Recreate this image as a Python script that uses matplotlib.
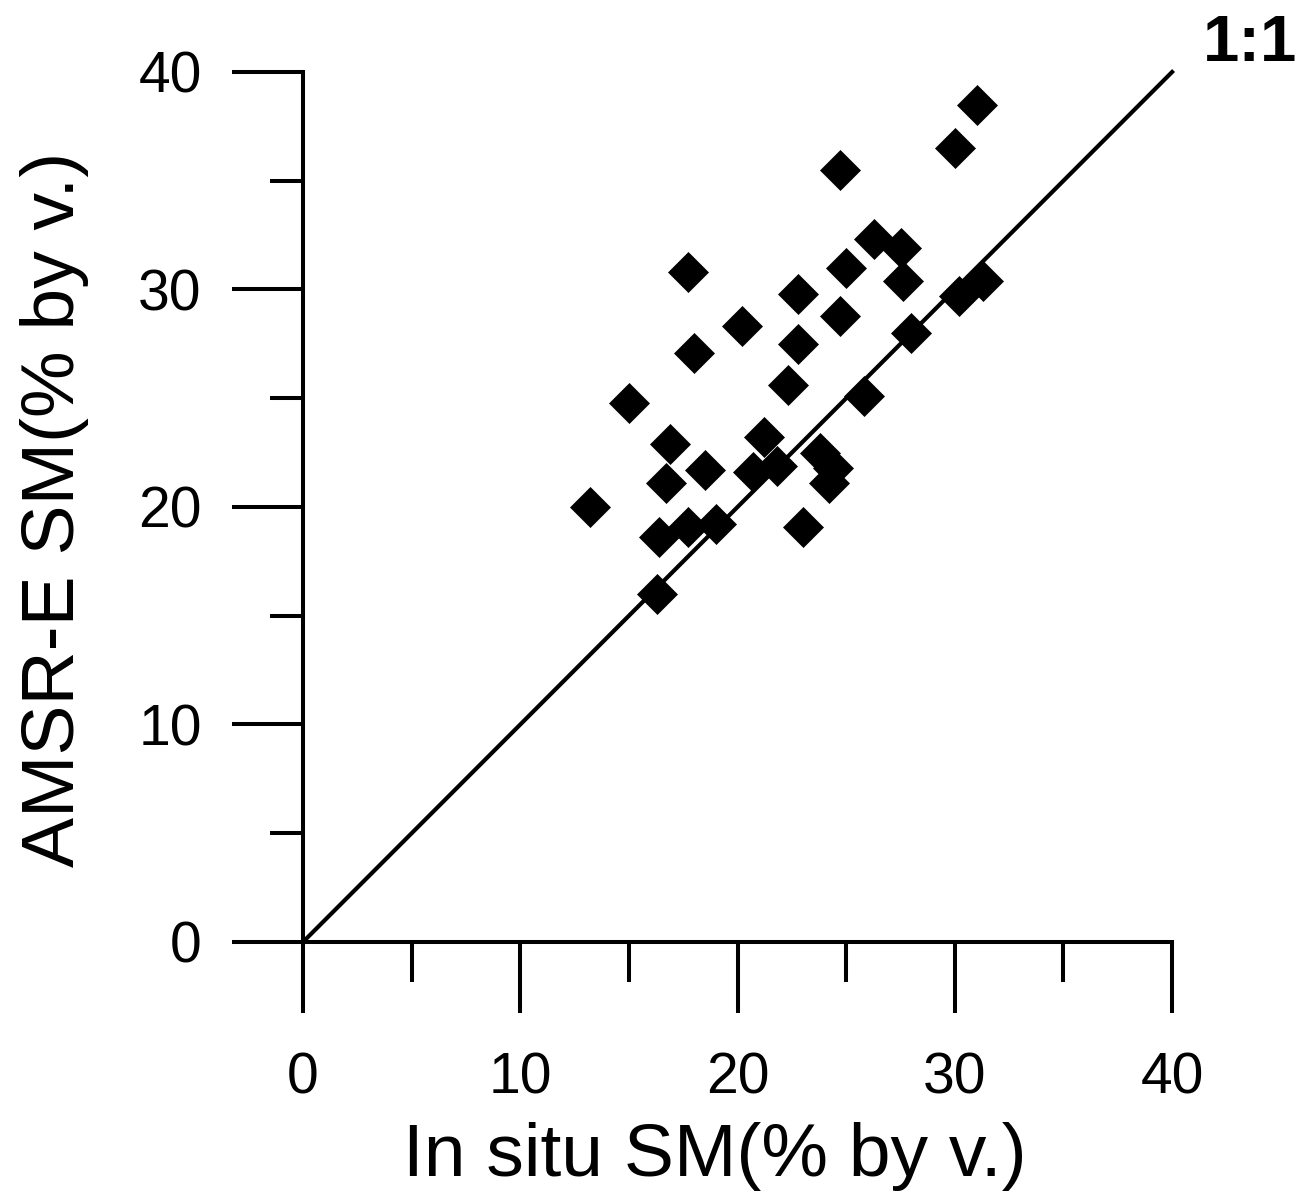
import matplotlib
matplotlib.use("Agg")
from matplotlib import pyplot as plt
from matplotlib.ticker import MultipleLocator

plt.rcParams["font.family"] = ["Liberation Sans", "DejaVu Sans"]

# in situ vs AMSR-E soil moisture
in_situ = [13.2, 15.0, 16.3, 16.4, 17.7, 19.0, 16.9, 16.7, 18.5, 17.7, 18.0,
           20.2, 21.2, 20.7, 21.8, 22.3, 22.8, 22.8, 23.0, 23.8, 24.4, 24.2,
           24.7, 24.7, 25.0, 25.8, 26.3, 27.5, 27.6, 28.0, 30.0, 31.0, 30.2, 31.3]
amsr_e = [20.0, 24.8, 16.0, 18.6, 19.1, 19.2, 22.9, 21.1, 21.7, 30.8, 27.1,
          28.3, 23.2, 21.6, 21.9, 25.6, 29.8, 27.5, 19.1, 22.5, 21.8, 21.1,
          28.8, 35.5, 31.0, 25.1, 32.3, 31.9, 30.4, 28.0, 36.5, 38.5, 29.7, 30.4]
one_to_one = [0, 40]

fig = plt.figure(figsize=(12.99, 11.94), dpi=100)
ax = fig.add_axes([0.2333, 0.2111, 0.669, 0.7286])

ax.plot(one_to_one, one_to_one, color="black", lw=3.0, clip_on=False, zorder=2)
ax.plot(in_situ, amsr_e, ls="none", marker="D", ms=20, mfc="black",
        mec="black", mew=0.5, clip_on=False, zorder=3)

ax.set_xlim(0, 40)
ax.set_ylim(0, 40)
ax.spines["top"].set_visible(False)
ax.spines["right"].set_visible(False)
for s in ("left", "bottom"):
    ax.spines[s].set_linewidth(2.9)

ax.xaxis.set_major_locator(MultipleLocator(10))
ax.yaxis.set_major_locator(MultipleLocator(10))
ax.xaxis.set_minor_locator(MultipleLocator(5))
ax.yaxis.set_minor_locator(MultipleLocator(5))
ax.tick_params(which="major", direction="out", length=51, width=2.9,
               labelsize=41, pad=22)
ax.tick_params(axis="x", which="major", pad=28)
ax.tick_params(axis="x", which="minor", direction="out", length=29, width=2.9)
ax.tick_params(axis="y", which="minor", direction="out", length=24, width=2.9)

ax.set_xlabel("In situ SM(% by v.)", fontsize=54)
ax.set_ylabel("AMSR-E SM(% by v.)", fontsize=54)
ax.xaxis.set_label_coords(0.474, -0.207)
ax.yaxis.set_label_coords(-0.246, 0.497)

ax.text(41.4, 40.5, "1:1", fontsize=47, fontweight="bold", ha="left",
        va="baseline", clip_on=False)

fig.savefig("out.png", dpi=100, facecolor="white")
